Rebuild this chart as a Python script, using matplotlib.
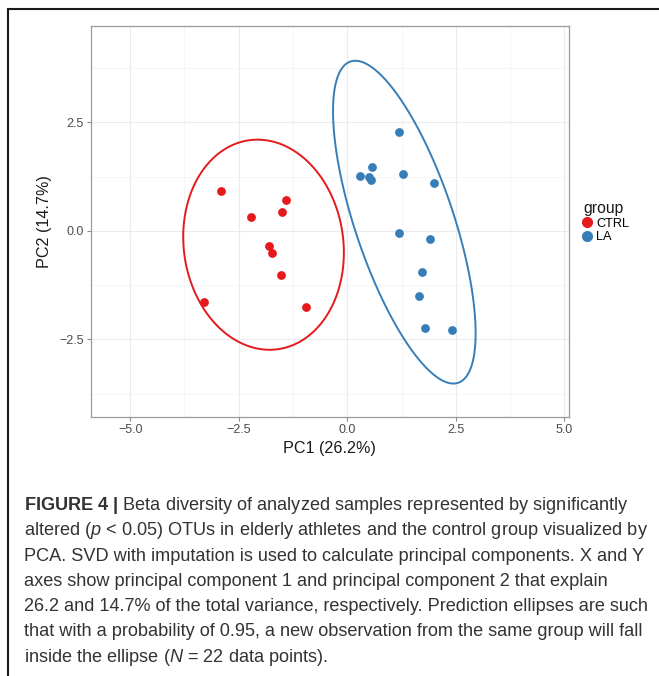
import numpy as np
import matplotlib
matplotlib.use("Agg")
import matplotlib.pyplot as plt
from matplotlib.lines import Line2D
from matplotlib.patches import Polygon

# ---------------- data ----------------
ctrl_x = [-2.91, -2.22, -1.41, -1.50, -1.80, -1.73, -1.52, -3.31, -0.96]
ctrl_y = [0.91, 0.32, 0.70, 0.43, -0.34, -0.50, -1.01, -1.63, -1.76]
la_x = [1.19, 0.57, 0.29, 0.51, 0.55, 1.29, 2.00, 1.20, 1.90, 1.73, 1.65, 1.78, 2.42]
la_y = [2.28, 1.46, 1.26, 1.24, 1.18, 1.30, 1.10, -0.05, -0.18, -0.95, -1.51, -2.24, -2.29]
groups = ["CTRL", "LA"]
group_colors = ["#E41A1C", "#377EB8"]
x_ticks = [-5.0, -2.5, 0.0, 2.5, 5.0]
y_ticks = [-2.5, 0.0, 2.5]
x_label = "PC1 (26.2%)"
y_label = "PC2 (14.7%)"
legend_title = "group"
ellipse_prob = 0.95
caption_lines = [
    r"$\mathbf{FIGURE\ 4\ |}$ Beta diversity of analyzed samples represented by significantly",
    r"altered ($p$ < 0.05) OTUs in elderly athletes and the control group visualized by",
    r"PCA. SVD with imputation is used to calculate principal components. X and Y",
    r"axes show principal component 1 and principal component 2 that explain",
    r"26.2 and 14.7% of the total variance, respectively. Prediction ellipses are such",
    r"that with a probability of 0.95, a new observation from the same group will fall",
    r"inside the ellipse ($N$ = 22 data points).",
]

plt.rcParams["font.family"] = ["Liberation Sans", "DejaVu Sans"]
plt.rcParams["mathtext.fontset"] = "custom"
plt.rcParams["mathtext.rm"] = "Liberation Sans"
plt.rcParams["mathtext.it"] = "Liberation Sans:italic"
plt.rcParams["mathtext.bf"] = "Liberation Sans:bold"

W, H = 659, 676
fig = plt.figure(figsize=(W / 100, H / 100), dpi=100)
fig.patch.set_facecolor("white")


def fx(px):
    return px / W


def fy(py):
    return 1 - py / H


# panel in pixel coordinates
left, right, top, bottom = 90.7, 568.7, 26.0, 417.0
ax = fig.add_axes([fx(left), fy(bottom), (right - left) / W, (bottom - top) / H])
ax.set_xlim(-5.91, 5.10)
ax.set_ylim(-4.29, 4.72)

ax.set_xticks(x_ticks)
ax.set_yticks(y_ticks)
ax.set_xticklabels([f"{v:.1f}".replace("-", "\u2212") for v in x_ticks])
ax.set_yticklabels([f"{v:.1f}".replace("-", "\u2212") for v in y_ticks])
ax.set_xticks([-3.75, -1.25, 1.25, 3.75], minor=True)
ax.set_yticks([-3.75, -1.25, 1.25, 3.75], minor=True)
ax.tick_params(which="major", direction="out", length=2.6, width=0.8,
               color="#8a8a8a", labelsize=9, labelcolor="#4D4D4D", pad=2.5)
ax.tick_params(which="minor", length=0)
ax.grid(which="major", color="#EBEBEB", lw=0.8)
ax.grid(which="minor", color="#F4F4F4", lw=0.6)
ax.set_axisbelow(True)
for s in ax.spines.values():
    s.set_color("#9a9a9a")
    s.set_linewidth(0.9)

# ellipses & points
chi2_q = -2.0 * np.log(1 - ellipse_prob)  # chi-square 2 df quantile
t = np.linspace(0, 2 * np.pi, 400, endpoint=False)
circle = np.vstack([np.cos(t), np.sin(t)])
for gx, gy, col in [(ctrl_x, ctrl_y, group_colors[0]), (la_x, la_y, group_colors[1])]:
    pts = np.vstack([gx, gy])
    mu = pts.mean(axis=1, keepdims=True)
    cov = np.cov(pts)
    L = np.linalg.cholesky(cov)
    ell = mu + np.sqrt(chi2_q) * (L @ circle)
    ax.add_patch(Polygon(ell.T, closed=True, fill=False, edgecolor=col, lw=1.4,
                         joinstyle="round", zorder=2))
    ax.scatter(gx, gy, s=40, color=col, linewidths=0, zorder=3)

ax.set_xlabel(x_label, fontsize=11.6, color="#1a1a1a")
ax.set_ylabel(y_label, fontsize=11.6, color="#1a1a1a")
ax.xaxis.set_label_coords(0.5, (bottom - 448) / (bottom - top))
ax.xaxis.label.set_va("center")
ax.yaxis.set_label_coords((44 - left) / (right - left), 0.5)
ax.yaxis.label.set_va("center")

handles = [Line2D([], [], marker="o", ls="", color=c, markersize=7.0) for c in group_colors]
leg = ax.legend(handles, groups, title=legend_title, loc="upper left",
                bbox_to_anchor=(fx(583), fy(201)), bbox_transform=fig.transFigure,
                frameon=False, fontsize=9.2, title_fontsize=11.3, handlelength=0.7,
                handletextpad=0.35, labelspacing=0.12, borderpad=0, borderaxespad=0,
                alignment="left")
leg.get_title().set_color("#1a1a1a")

# outer frame
fig.add_artist(Line2D([fx(8), 1], [fy(9), fy(9)], transform=fig.transFigure,
                      color="#1a1a1a", lw=1.5))
fig.add_artist(Line2D([fx(8), fx(8)], [fy(9), 0], transform=fig.transFigure,
                      color="#1a1a1a", lw=1.5))

# caption
base0, step = 510.0, 25.3
for i, line in enumerate(caption_lines):
    fig.text(fx(24), fy(base0 + i * step), line, fontsize=13.1, color="#333333",
             ha="left", va="baseline")

fig.savefig("out.png", dpi=100)
